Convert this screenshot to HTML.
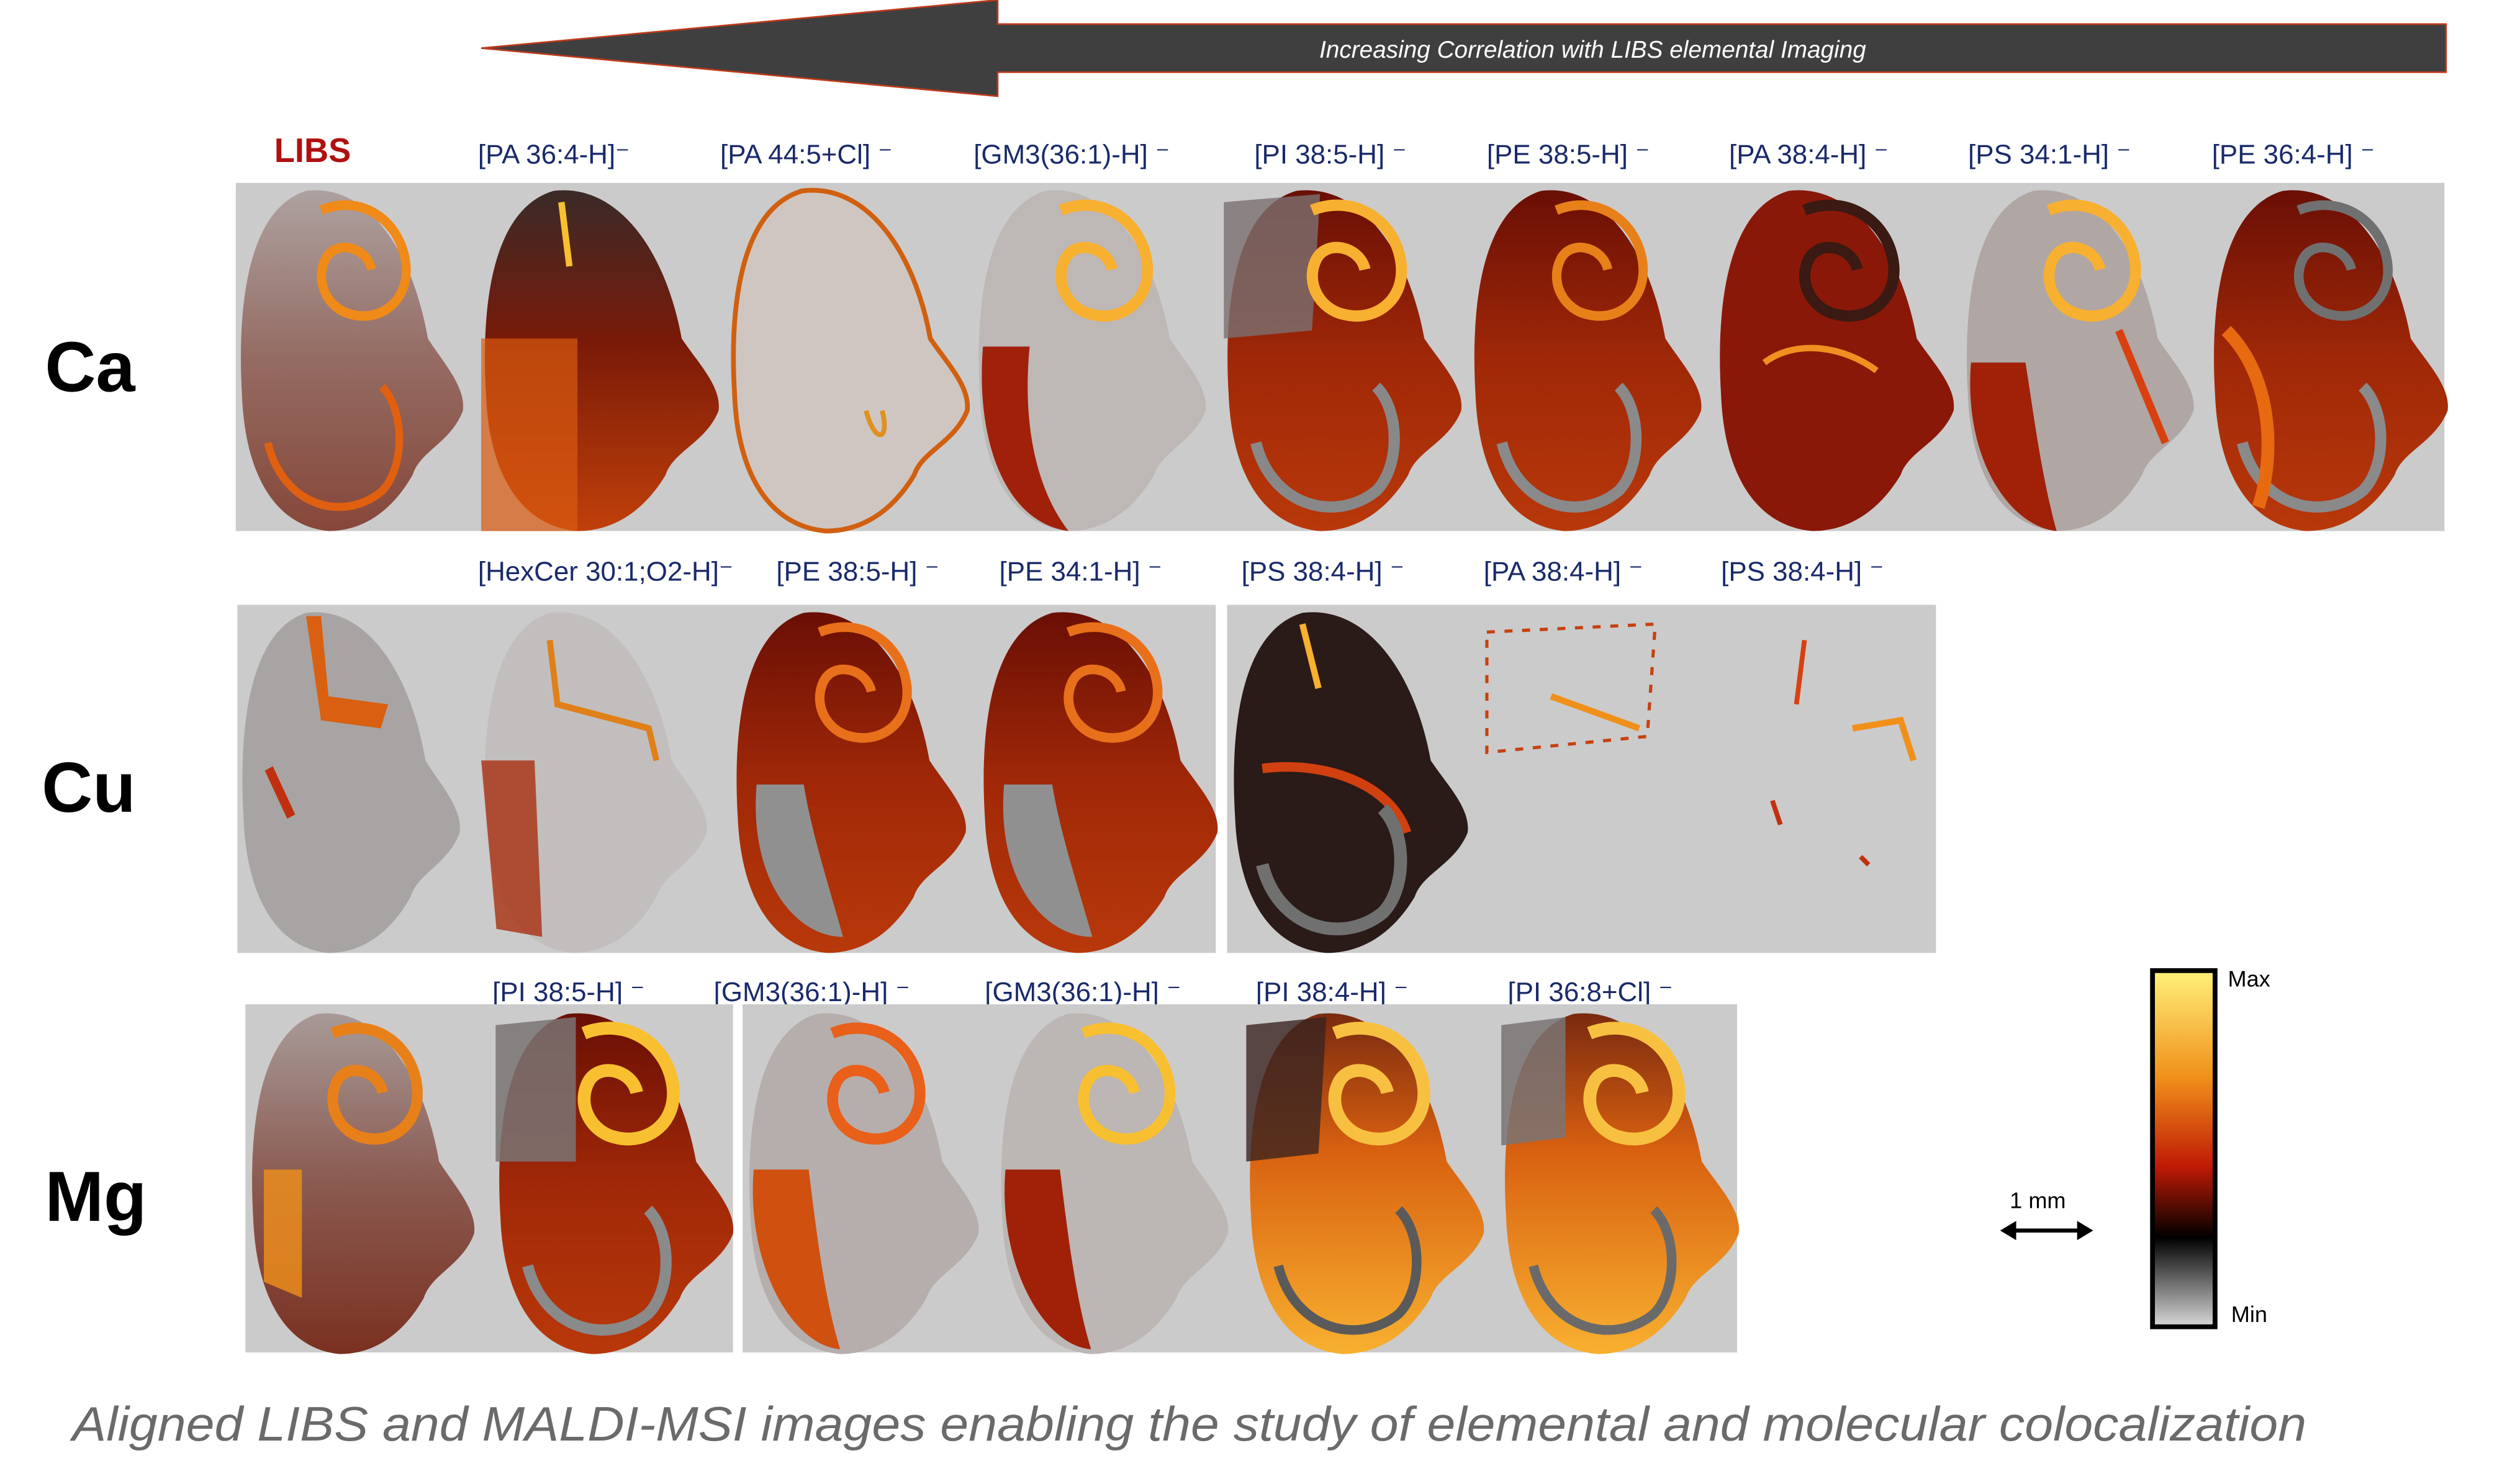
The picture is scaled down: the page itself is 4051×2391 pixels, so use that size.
<!DOCTYPE html>
<html><head><meta charset="utf-8"><style>
html,body{margin:0;padding:0;background:#fff;}
svg{display:block;}
text{font-family:"Liberation Sans",sans-serif;}
</style></head><body>
<svg width="4051" height="2391" viewBox="0 0 1568 925" preserveAspectRatio="none" xmlns="http://www.w3.org/2000/svg">
<defs>
<path id="b" d="M45,3 C85,-2 115,40 125,95 C135,110 150,125 148,140 C140,160 120,165 115,180 C100,205 80,215 60,215 C25,212 5,180 3,130 C0,80 5,15 45,3 Z"/>
<path id="cb" d="M55,15 C80,5 105,20 110,45 C115,70 95,85 75,80 C60,77 50,60 58,45 C65,33 85,38 88,52" fill="none"/>
<path id="arc" d="M20,160 C30,200 70,210 95,190 C110,175 110,140 95,125" fill="none"/>
<linearGradient id="gD" x1="0" y1="0" x2="0" y2="1"><stop offset="0" stop-color="#3a2a28"/><stop offset="0.45" stop-color="#7a1a08"/><stop offset="1" stop-color="#c0400a"/></linearGradient>
<linearGradient id="gR" x1="0" y1="0" x2="0" y2="1"><stop offset="0" stop-color="#6a0f05"/><stop offset="0.5" stop-color="#a02808"/><stop offset="1" stop-color="#b8380a"/></linearGradient>
<linearGradient id="gY" x1="0" y1="0" x2="0" y2="1"><stop offset="0" stop-color="#7a2a10"/><stop offset="0.4" stop-color="#d86010"/><stop offset="1" stop-color="#f8b030"/></linearGradient>
<linearGradient id="gL" x1="0" y1="0" x2="0" y2="1"><stop offset="0" stop-color="#a89a98"/><stop offset="0.5" stop-color="#8a5a50"/><stop offset="1" stop-color="#7a3020"/></linearGradient>
<linearGradient id="cbar" x1="0" y1="0" x2="0" y2="1"><stop offset="0" stop-color="#fff17a"/><stop offset="0.3" stop-color="#f0901a"/><stop offset="0.55" stop-color="#c01a05"/><stop offset="0.75" stop-color="#000"/><stop offset="1" stop-color="#d8d8d8"/></linearGradient>
</defs>

<path d="M300,30 L622,0 L622,15 L1525,15 L1525,45 L622,45 L622,60 Z" fill="#3f3f3f" stroke="#c03a1a" stroke-width="1"/>
<text x="993" y="36" font-size="15" font-style="italic" fill="#fff" text-anchor="middle">Increasing Correlation with LIBS elemental Imaging</text>

<text x="28" y="244" font-size="44" font-weight="bold" fill="#000">Ca</text>
<text x="26" y="506" font-size="44" font-weight="bold" fill="#000">Cu</text>
<text x="28" y="761" font-size="44" font-weight="bold" fill="#000">Mg</text>

<g font-size="17" fill="#1a2a6a">
<text x="171" y="101" font-size="21" font-weight="bold" fill="#b01010">LIBS</text>
<text x="298" y="102">[PA 36:4-H]⁻</text>
<text x="449" y="102">[PA 44:5+Cl] ⁻</text>
<text x="607" y="102">[GM3(36:1)-H] ⁻</text>
<text x="782" y="102">[PI 38:5-H] ⁻</text>
<text x="927" y="102">[PE 38:5-H] ⁻</text>
<text x="1078" y="102">[PA 38:4-H] ⁻</text>
<text x="1227" y="102">[PS 34:1-H] ⁻</text>
<text x="1379" y="102">[PE 36:4-H] ⁻</text>
<text x="298" y="362">[HexCer 30:1;O2-H]⁻</text>
<text x="484" y="362">[PE 38:5-H] ⁻</text>
<text x="623" y="362">[PE 34:1-H] ⁻</text>
<text x="774" y="362">[PS 38:4-H] ⁻</text>
<text x="925" y="362">[PA 38:4-H] ⁻</text>
<text x="1073" y="362">[PS 38:4-H] ⁻</text>
<text x="307" y="624">[PI 38:5-H] ⁻</text>
<text x="445" y="624">[GM3(36:1)-H] ⁻</text>
<text x="614" y="624">[GM3(36:1)-H] ⁻</text>
<text x="783" y="624">[PI 38:4-H] ⁻</text>
<text x="940" y="624">[PI 36:8+Cl] ⁻</text>
</g>

<rect x="147" y="114" width="1377" height="217" fill="#cbcbcb"/>
<rect x="148" y="377" width="610" height="217" fill="#cbcbcb"/>
<rect x="765" y="377" width="442" height="217" fill="#cbcbcb"/>
<rect x="153" y="626" width="304" height="217" fill="#cbcbcb"/>
<rect x="463" y="626" width="620" height="217" fill="#cbcbcb"/>

<g transform="translate(148,116) scale(0.95,1)"><use href="#b" fill="url(#gL)" opacity="0.85"/><use href="#cb" stroke="#f08a18" stroke-width="6"/><use href="#arc" stroke="#e06010" stroke-width="5"/></g>
<g transform="translate(300,116) scale(1.0,1)"><use href="#b" fill="url(#gD)"/><path d="M0,95 L60,95 L60,215 L0,215Z" fill="#d85a10" opacity="0.7"/><path d="M50,10 L55,50" stroke="#f8c030" stroke-width="4"/></g>
<g transform="translate(455,116) scale(1.0,1)"><use href="#b" fill="#cfc6c2" stroke="#d06010" stroke-width="3"/><path d="M85,140 C90,160 100,160 95,140" stroke="#e09020" stroke-width="3" fill="none"/></g>
<g transform="translate(608,116) scale(0.97,1)"><use href="#b" fill="#bdb8b6"/><path d="M5,100 C0,160 20,210 60,215 C40,190 30,150 35,100Z" fill="#a0200a"/><use href="#cb" stroke="#f8b030" stroke-width="7"/></g>
<g transform="translate(763,116) scale(1.0,1)"><use href="#b" fill="url(#gR)"/><path d="M0,10 L60,5 L55,90 L0,95Z" fill="#7a7070" opacity="0.8"/><use href="#cb" stroke="#f8b030" stroke-width="7"/><use href="#arc" stroke="#888" stroke-width="7"/></g>
<g transform="translate(917,116) scale(0.97,1)"><use href="#b" fill="url(#gR)"/><use href="#cb" stroke="#e8801a" stroke-width="6"/><use href="#arc" stroke="#8a8a8a" stroke-width="7"/></g>
<g transform="translate(1070,116) scale(1.0,1)"><use href="#b" fill="#8a1808"/><use href="#cb" stroke="#3a1a12" stroke-width="7"/><path d="M30,110 C50,95 80,100 100,115" stroke="#f09020" stroke-width="4" fill="none"/></g>
<g transform="translate(1224,116) scale(0.97,1)"><use href="#b" fill="#b0a6a4"/><path d="M5,110 C0,170 30,212 60,215 C50,180 45,140 40,110Z" fill="#a02008"/><use href="#cb" stroke="#f8b030" stroke-width="7"/><path d="M100,90 L130,160" stroke="#d84010" stroke-width="5"/></g>
<g transform="translate(1378,116) scale(1.0,1)"><use href="#b" fill="url(#gR)"/><use href="#cb" stroke="#707070" stroke-width="6"/><use href="#arc" stroke="#8a8a8a" stroke-width="7"/><path d="M10,90 C40,120 40,170 30,200" stroke="#e86a10" stroke-width="8" fill="none"/></g>

<g transform="translate(149,379) scale(0.93,1)"><use href="#b" fill="#a8a4a4"/><path d="M45,5 L55,70 L95,75 L100,60 L60,55 L55,5Z" fill="#d86010"/><path d="M20,100 L35,130" stroke="#c03010" stroke-width="6"/></g>
<g transform="translate(300,379) scale(0.95,1)"><use href="#b" fill="#c2bebe"/><path d="M0,95 L35,95 L40,205 L10,200Z" fill="#a83010" opacity="0.8"/><path d="M45,20 L50,60 L110,75 L115,95" stroke="#e08018" stroke-width="4" fill="none"/></g>
<g transform="translate(457,379) scale(0.98,1)"><use href="#b" fill="url(#gR)"/><path d="M15,110 C10,170 40,205 70,205 C60,170 50,140 45,110Z" fill="#909090"/><use href="#cb" stroke="#e8701a" stroke-width="6"/></g>
<g transform="translate(611,379) scale(1.0,1)"><use href="#b" fill="url(#gR)"/><path d="M15,110 C10,170 40,205 70,205 C60,170 50,140 45,110Z" fill="#909090"/><use href="#cb" stroke="#e8701a" stroke-width="6"/></g>
<g transform="translate(767,379) scale(1.0,1)"><use href="#b" fill="#2a1a18"/><path d="M20,100 C60,95 100,110 110,140" stroke="#d04010" stroke-width="6" fill="none"/><path d="M45,10 L55,50" stroke="#f8b030" stroke-width="4"/><use href="#arc" stroke="#707070" stroke-width="8"/></g>
<g transform="translate(922,379)"><path d="M5,15 L110,10 L105,80 L5,90Z" fill="none" stroke="#c84010" stroke-width="2" stroke-dasharray="5,6"/><path d="M45,55 L100,75" stroke="#f0901a" stroke-width="4"/></g>
<g transform="translate(1075,379)"><path d="M50,20 L45,60" stroke="#d84010" stroke-width="3"/><path d="M80,75 L110,70 L118,95" stroke="#f0901a" stroke-width="4" fill="none"/><path d="M30,120 L35,135 M85,155 L90,160" stroke="#c03010" stroke-width="3"/></g>

<g transform="translate(155,629) scale(0.95,1)"><use href="#b" fill="url(#gL)"/><use href="#cb" stroke="#e8801a" stroke-width="7"/><path d="M10,100 L35,100 L35,180 L10,170Z" fill="#f0901a" opacity="0.8"/></g>
<g transform="translate(309,629) scale(1.0,1)"><use href="#b" fill="url(#gR)"/><path d="M0,10 L50,5 L50,95 L0,95Z" fill="#7a7474" opacity="0.85"/><use href="#cb" stroke="#f8c030" stroke-width="8"/><use href="#arc" stroke="#8a8a8a" stroke-width="7"/></g>
<g transform="translate(465,629) scale(0.98,1)"><use href="#b" fill="#b6aeac"/><path d="M5,100 C0,160 30,210 60,212 C50,180 45,140 40,100Z" fill="#d05010"/><use href="#cb" stroke="#e8601a" stroke-width="7"/></g>
<g transform="translate(622,629) scale(0.97,1)"><use href="#b" fill="#bcb6b4"/><path d="M5,100 C0,160 30,210 60,212 C50,180 45,140 40,100Z" fill="#a02008"/><use href="#cb" stroke="#f8c030" stroke-width="7"/></g>
<g transform="translate(777,629) scale(1.0,1)"><use href="#b" fill="url(#gY)"/><path d="M0,10 L50,5 L45,90 L0,95Z" fill="#3a2420" opacity="0.8"/><use href="#cb" stroke="#f8c040" stroke-width="8"/><use href="#arc" stroke="#5a5a5a" stroke-width="6"/></g>
<g transform="translate(936,629) scale(1.0,1)"><use href="#b" fill="url(#gY)"/><path d="M0,10 L40,5 L40,80 L0,85Z" fill="#7a7474" opacity="0.85"/><use href="#cb" stroke="#f8c040" stroke-width="8"/><use href="#arc" stroke="#6a6a6a" stroke-width="6"/></g>

<text x="1253" y="753" font-size="14" fill="#000">1 mm</text>
<path d="M1250,767 L1302,767" stroke="#000" stroke-width="2.5"/>
<path d="M1247,767 L1257,761 L1257,773Z M1305,767 L1295,761 L1295,773Z" fill="#000"/>
<rect x="1342" y="605" width="39" height="222" fill="url(#cbar)" stroke="#000" stroke-width="3"/>
<text x="1389" y="615" font-size="14" fill="#000">Max</text>
<text x="1391" y="824" font-size="14" fill="#000">Min</text>

<text x="45" y="898" font-size="30" font-style="italic" fill="#6a6a6a" textLength="1393" lengthAdjust="spacingAndGlyphs">Aligned LIBS and MALDI-MSI images enabling the study of elemental and molecular colocalization</text>
</svg>
</body></html>
